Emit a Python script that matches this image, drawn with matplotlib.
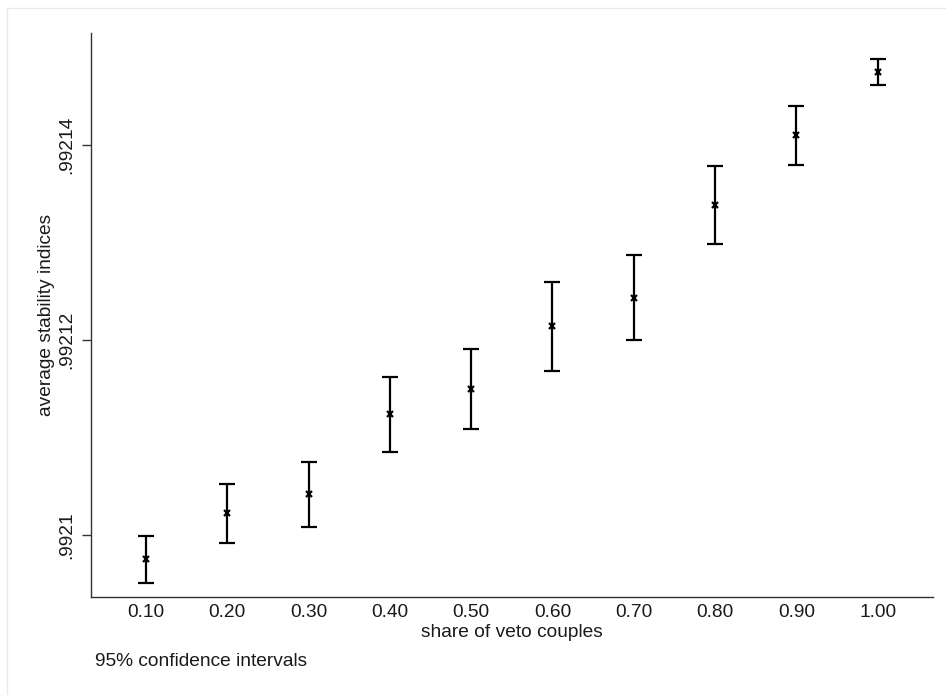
import matplotlib
matplotlib.use("Agg")
import matplotlib.pyplot as plt
from matplotlib.patches import Rectangle

# share of veto couples (categories)
shares = [0.10, 0.20, 0.30, 0.40, 0.50, 0.60, 0.70, 0.80, 0.90, 1.00]
share_labels = ["0.10", "0.20", "0.30", "0.40", "0.50", "0.60", "0.70", "0.80", "0.90", "1.00"]

# point estimates and 95% CI bounds
means = [0.99209754, 0.99210225, 0.99210420, 0.99211239, 0.99211498,
         0.99212143, 0.99212433, 0.99213382, 0.99214096, 0.99214744]
ci_lo = [0.99209515, 0.99209924, 0.99210085, 0.99210856, 0.99211089,
         0.99211686, 0.99212003, 0.99212983, 0.99213792, 0.99214608]
ci_hi = [0.99209996, 0.99210528, 0.99210748, 0.99211624, 0.99211911,
         0.99212594, 0.99212870, 0.99213785, 0.99214396, 0.99214874]

y_ticks = [0.9921, 0.99212, 0.99214]
y_tick_labels = [".9921", ".99212", ".99214"]

FS = 13.8
plt.rcParams["font.family"] = ["Liberation Sans", "DejaVu Sans"]

fig = plt.figure(figsize=(9.46, 6.95), dpi=100)
ax = fig.add_axes([91 / 946, 1 - 597 / 695, (933 - 91) / 946, (597 - 33) / 695])

# thin outer frame of the graph region (runs off the right and bottom edges)
fig.patches.append(Rectangle((7 / 946, -20 / 695), 980 / 946, 707 / 695,
                             transform=fig.transFigure, fill=False,
                             edgecolor="#e6ecee", linewidth=1.0))

err_lo = [m - lo for m, lo in zip(means, ci_lo)]
err_hi = [hi - m for m, hi in zip(means, ci_hi)]
ax.errorbar(shares, means, yerr=[err_lo, err_hi], fmt="none",
            ecolor="black", elinewidth=1.6, capsize=5.5, capthick=1.6)
ax.plot(shares, means, linestyle="none", marker="x", color="black",
        markersize=3.8, markeredgewidth=1.6)

ax.set_xlim(0.0324, 1.068)
ax.set_ylim(0.99209368, 0.99215143)

ax.set_xticks(shares)
ax.set_xticklabels(share_labels, fontsize=FS)
ax.tick_params(axis="x", length=0, pad=5, colors="#1a1a1a")

ax.set_yticks(y_ticks)
ax.set_yticklabels(y_tick_labels, fontsize=FS, rotation=90, va="center")
ax.tick_params(axis="y", length=6.5, width=1.0, pad=5, color="#333333",
               labelcolor="#1a1a1a")

for side in ["top", "right"]:
    ax.spines[side].set_visible(False)
for side in ["left", "bottom"]:
    ax.spines[side].set_color("#333333")
    ax.spines[side].set_linewidth(1.0)

ax.set_xlabel("share of veto couples", fontsize=FS, labelpad=2.5, color="#1a1a1a")
ax.set_ylabel("average stability indices", fontsize=FS, labelpad=2, color="#1a1a1a")

fig.text(95 / 946, 1 - 662 / 695, "95% confidence intervals", fontsize=FS,
         va="center", ha="left", color="#1a1a1a")

fig.savefig("out.png", dpi=100)
